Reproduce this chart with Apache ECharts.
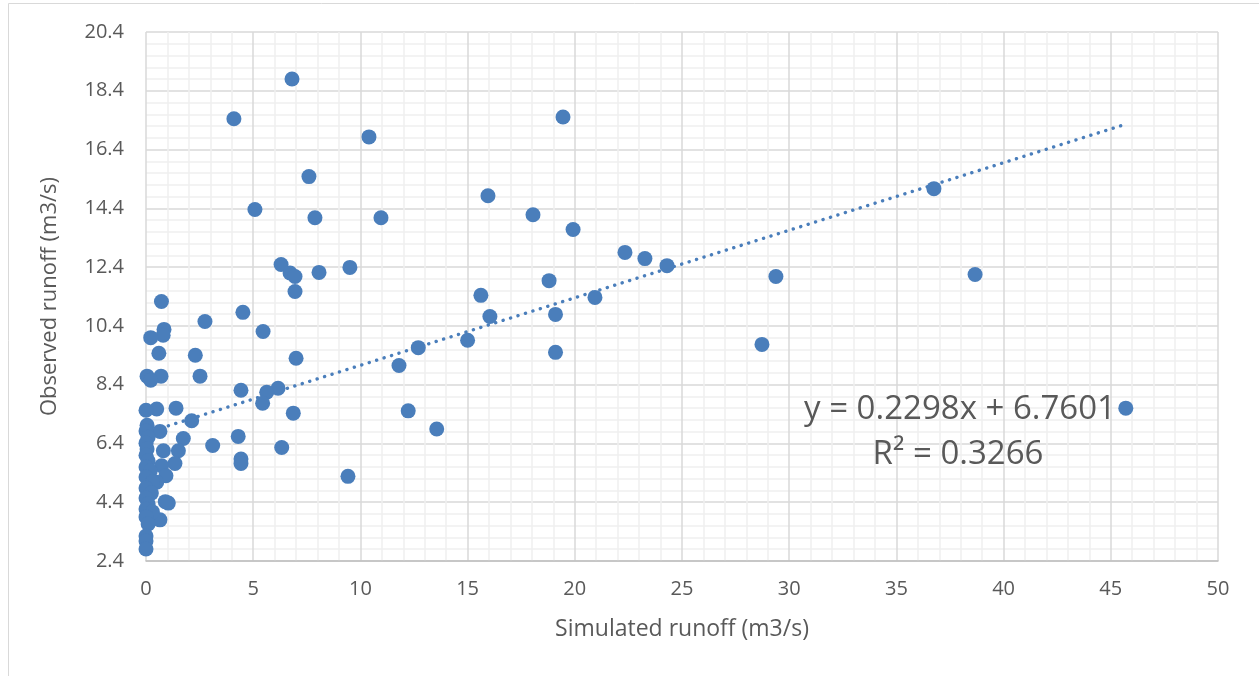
<!DOCTYPE html>
<html>
<head>
<meta charset="utf-8">
<script src="https://cdn.jsdelivr.net/npm/echarts@6/dist/echarts.min.js"></script>
<style>
html,body{margin:0;padding:0;background:#fff;}
#chart{width:1259px;height:676px;}
</style>
</head>
<body>
<div id="chart"></div>
<script>
// Simulated runoff (x) and observed runoff (y), m3/s
const simulated = [6.81,4.1,19.45,10.4,7.6,5.08,15.95,7.88,10.96,18.05,19.92,36.75,22.34,23.27,24.3,6.3,6.72,6.95,8.07,9.51,29.38,38.67,6.95,15.62,18.8,20.94,0.72,4.52,16.04,19.1,2.75,5.46,0.84,0.8,0.22,12.7,15.0,28.73,0.6,2.3,19.1,7.0,11.8,0.05,0.7,2.52,0.22,4.43,6.16,5.63,5.44,6.87,12.23,13.56,6.33,9.42,45.7,0.5,1.4,2.13,0.65,1.74,0.81,1.51,1.35,3.11,4.3,4.43,4.43,0.73,0.93,0.5,1.04,0.9,0.65,
  0,0.05,0,0.1,0,0.05,0,0.1,0,0.2,0,0.3,0,0.25,0,0.1,0,0.3,0,0.1,0,0,0];
const observed = [18.8,17.45,17.51,16.83,15.48,14.36,14.83,14.08,14.08,14.18,13.68,15.07,12.9,12.69,12.45,12.49,12.2,12.08,12.22,12.39,12.08,12.15,11.57,11.44,11.94,11.37,11.23,10.86,10.72,10.79,10.55,10.21,10.28,10.08,10.0,9.66,9.91,9.77,9.47,9.4,9.5,9.3,9.05,8.69,8.69,8.69,8.55,8.21,8.28,8.14,7.77,7.43,7.51,6.89,6.26,5.28,7.6,7.57,7.6,7.17,6.81,6.57,6.15,6.15,5.72,6.33,6.64,5.87,5.72,5.64,5.3,5.08,4.37,4.42,3.8,
  7.53,7.02,6.82,6.61,6.41,6.21,6.0,5.8,5.6,5.46,5.26,5.09,4.88,4.71,4.54,4.34,4.17,4.07,3.9,3.66,3.25,3.08,2.81];

// Linear trendline shown in the chart
const trendSlope = 0.2298;
const trendIntercept = 6.7601;
const trendLabel = ['y = 0.2298x + 6.7601', 'R² = 0.3266'];

const xTitle = 'Simulated runoff (m3/s)';
const yTitle = 'Observed runoff (m3/s)';

const points = simulated.map((x, i) => [x, observed[i]]);
const xMaxData = Math.max.apply(null, simulated);
const xMinData = Math.min.apply(null, simulated);
const trend = [
  [xMinData, trendSlope * xMinData + trendIntercept],
  [xMaxData, trendSlope * xMaxData + trendIntercept]
];

const FONT = '"Open Sans", "Noto Sans", sans-serif';
const chart = echarts.init(document.getElementById('chart'));
chart.setOption({
  animation: false,
  backgroundColor: '#ffffff',
  grid: { left: 146, right: 41, top: 32, bottom: 115, containLabel: false },
  xAxis: {
    type: 'value', min: 0, max: 50, interval: 5,
    name: xTitle, nameLocation: 'middle', nameGap: 57,
    nameTextStyle: { color: '#595959', fontSize: 23, fontFamily: FONT },
    axisLine: { show: true, lineStyle: { color: '#bfbfbf', width: 1.5 } },
    axisTick: { show: false },
    axisLabel: { color: '#595959', fontSize: 20, fontFamily: FONT, margin: 18 },
    splitLine: { show: true, lineStyle: { color: '#d9d9d9', width: 1.5 } },
    minorTick: { show: false, splitNumber: 5 },
    minorSplitLine: { show: true, lineStyle: { color: '#efefef', width: 1.5 } }
  },
  yAxis: {
    type: 'value', min: 2.4, max: 20.4, interval: 2,
    name: yTitle, nameLocation: 'middle', nameGap: 85, nameRotate: 90,
    nameTextStyle: { color: '#595959', fontSize: 22, fontFamily: FONT },
    axisLine: { show: false },
    axisTick: { show: false },
    axisLabel: { color: '#595959', fontSize: 20, fontFamily: FONT, margin: 22,
      formatter: v => v.toFixed(1) },
    splitLine: { show: true, lineStyle: { color: '#d9d9d9', width: 1.5 } },
    minorTick: { show: false, splitNumber: 5 },
    minorSplitLine: { show: true, lineStyle: { color: '#efefef', width: 1.5 } }
  },
  series: [
    {
      type: 'line', data: trend, showSymbol: false, symbol: 'none', silent: true, z: 1,
      lineStyle: { color: '#4a7ebb', width: 3.4, type: [0.1, 7.7], cap: 'round' }
    },
    {
      type: 'scatter', data: points, symbol: 'circle', symbolSize: 15, z: 2,
      itemStyle: { color: '#4a7ebb', opacity: 1 }
    }
  ],
  graphic: [
    { type: 'rect', shape: { x: 8.5, y: 3.5, width: 1260, height: 680 },
      style: { fill: 'none', stroke: '#d9d9d9', lineWidth: 1 }, silent: true, z: -1 },
    { type: 'text', x: 960, y: 410, z: 100, style: { text: trendLabel[0], fill: '#595959',
      font: '33px ' + FONT, textAlign: 'center', textVerticalAlign: 'middle' } },
    { type: 'text', x: 958, y: 455, z: 100, style: { text: trendLabel[1], fill: '#595959',
      font: '33px ' + FONT, textAlign: 'center', textVerticalAlign: 'middle' } }
  ]
});
</script>
</body>
</html>
